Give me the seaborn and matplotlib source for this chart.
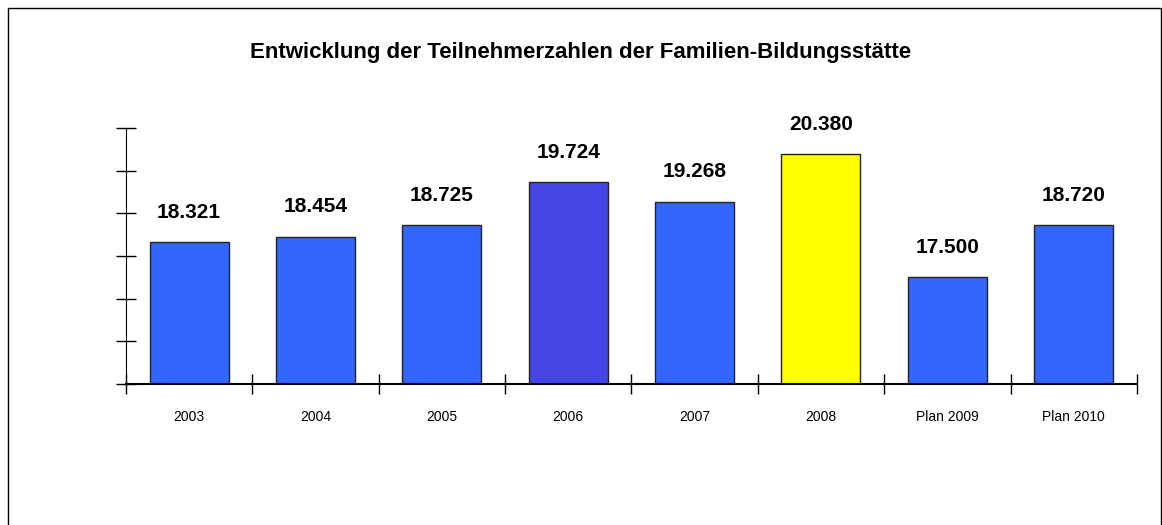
import matplotlib
matplotlib.use("Agg")
import matplotlib.pyplot as plt
import seaborn as sns
import pandas as pd

# data
jahre = ["2003", "2004", "2005", "2006", "2007", "2008", "Plan 2009", "Plan 2010"]
teilnehmer = [18321, 18454, 18725, 19724, 19268, 20380, 17500, 18720]
labels = ["18.321", "18.454", "18.725", "19.724", "19.268", "20.380", "17.500", "18.720"]
farben = ["#3366FF", "#3366FF", "#3366FF", "#4545E5", "#3366FF", "#FFFF00", "#3366FF", "#3366FF"]

df = pd.DataFrame({"jahr": jahre, "wert": teilnehmer})

sns.set_style("white")
plt.rcParams["font.family"] = ["Liberation Sans", "DejaVu Sans"]
plt.rcParams["text.color"] = "black"
plt.rcParams["xtick.color"] = "black"
plt.rcParams["ytick.color"] = "black"

fig = plt.figure(figsize=(11.62, 5.25), dpi=100)
ax = fig.add_axes([0.1084, 0.2686, 0.870, 0.4876])

sns.barplot(data=df, x="jahr", y="wert", hue="jahr", palette=farben, legend=False,
            saturation=1, width=0.625, edgecolor="#222222", linewidth=1.0, ax=ax)

ax.set_ylim(15000, 21000)
ax.set_xlim(-0.5, len(jahre) - 0.5)
ax.set_yticks(range(15000, 21001, 1000))
ax.set_yticklabels([])
ax.tick_params(axis="y", direction="inout", length=14, width=1, color="black", left=True)

# category ticks sit between the bars
ax.set_xticks([i - 0.5 for i in range(len(jahre) + 1)], minor=True)
ax.tick_params(axis="x", which="minor", direction="inout", length=14, width=1, color="black", bottom=True)
ax.tick_params(axis="x", which="major", length=0, labelsize=10, pad=19, labelcolor="black")
ax.set_xticks(range(len(jahre)))
ax.set_xticklabels(jahre)

for s in ["top", "right"]:
    ax.spines[s].set_visible(False)
ax.spines["left"].set_color("black")
ax.spines["bottom"].set_color("black")
ax.spines["bottom"].set_linewidth(1.5)
ax.set_xlabel("")
ax.set_ylabel("")

for i, (v, t) in enumerate(zip(teilnehmer, labels)):
    ax.text(i, v + 480, t, ha="center", va="bottom", fontsize=15, fontweight="bold", color="black")

fig.text(0.5, 0.90, "Entwicklung der Teilnehmerzahlen der Familien-Bildungsstätte",
         ha="center", va="center", fontsize=16, fontweight="bold", color="black")

# outer chart frame
fig.patches.append(plt.Rectangle((8 / 1162, -0.01), 1153 / 1162, 1 - 8 / 525 + 0.01,
                                 transform=fig.transFigure, fill=False,
                                 edgecolor="black", linewidth=1.0))

fig.savefig("out.png", dpi=100)
